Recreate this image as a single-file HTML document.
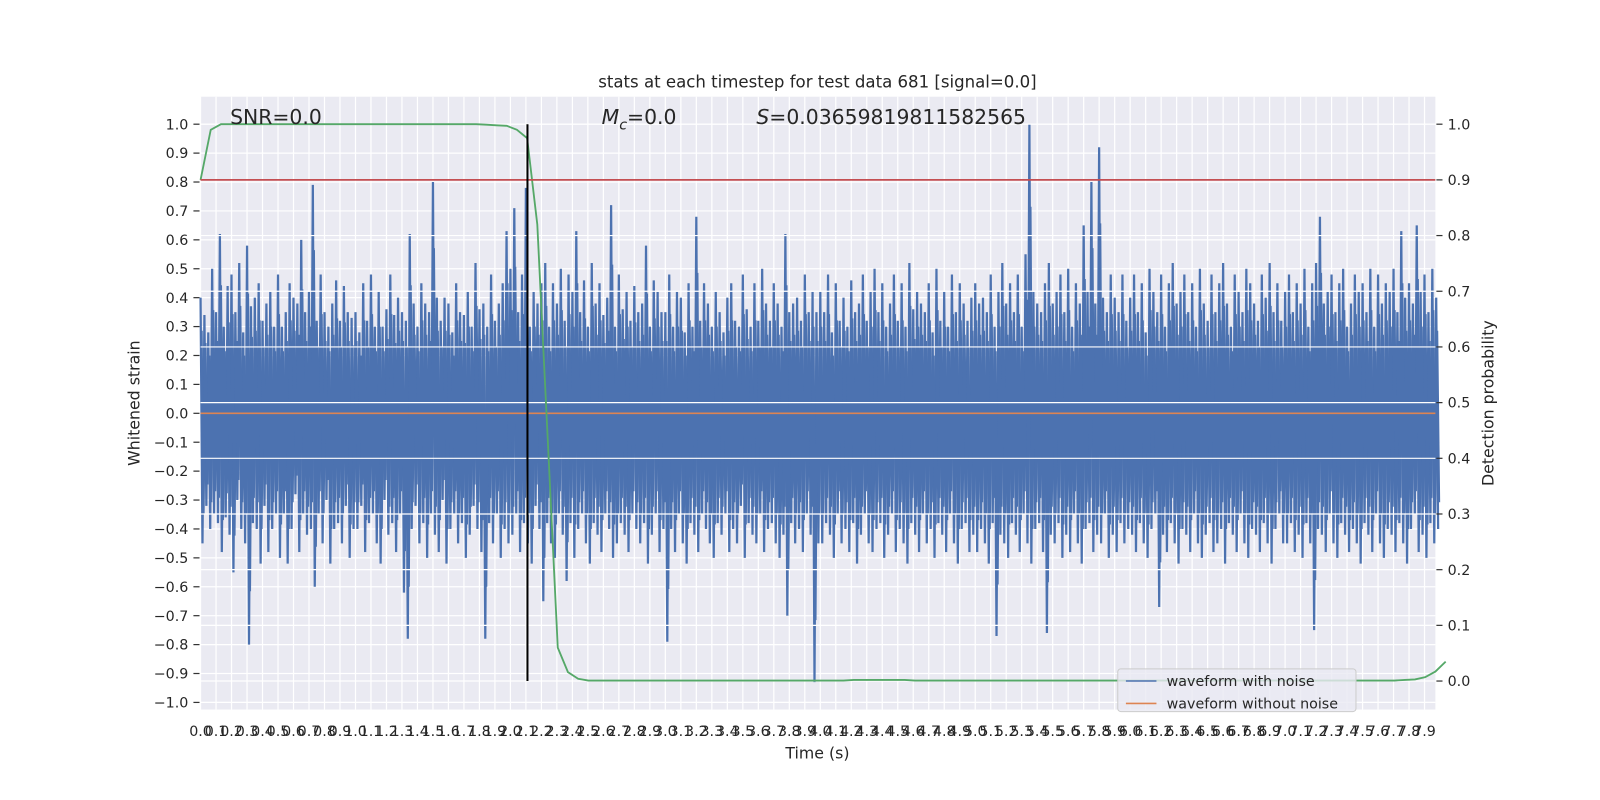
<!DOCTYPE html>
<html><head><meta charset="utf-8"><style>
html,body{margin:0;padding:0;background:#fff;overflow:hidden;width:1600px;height:800px;}
svg{display:block;position:absolute;left:0;top:0;font-family:"DejaVu Sans","Liberation Sans",sans-serif;}
</style></head><body>
<svg id="chart" width="1600" height="800" viewBox="0 0 1600 800" xmlns="http://www.w3.org/2000/svg">
<g transform="scale(1.018)">
<text x="803" y="86" font-size="16.3" text-anchor="middle" fill="#262626">stats at each timestep for test data 681 [signal=0.0]</text>
<g id="plot"></g>
<text x="226" y="122" font-size="20" fill="#262626">SNR=0.0</text>
<text x="591" y="122" font-size="20" fill="#262626"><tspan font-style="italic">M</tspan><tspan font-style="italic" font-size="14" dy="5">c</tspan><tspan dy="-5">=0.0</tspan></text>
<text x="743" y="122" font-size="20" fill="#262626"><tspan font-style="italic">S</tspan>=0.03659819811582565</text>
<text x="803" y="745" font-size="15.5" text-anchor="middle" fill="#262626">Time (s)</text>
<text x="0" y="0" font-size="15.5" text-anchor="middle" fill="#262626" transform="translate(137,396) rotate(-90)">Whitened strain</text>
<text x="0" y="0" font-size="15.5" text-anchor="middle" fill="#262626" transform="translate(1467,396) rotate(-90)">Detection probability</text>
<g>
<rect x="1098" y="657" width="234" height="42" rx="3" fill="#EAEAF2" fill-opacity="0.8" stroke="#cccccc"/>
<line x1="1106" y1="669" x2="1136" y2="669" stroke="#4C72B0" stroke-width="1.5"/>
<text x="1146" y="674" font-size="14" fill="#262626">waveform with noise</text>
<line x1="1106" y1="691" x2="1136" y2="691" stroke="#DD8452" stroke-width="1.5"/>
<text x="1146" y="696" font-size="14" fill="#262626">waveform without noise</text>
</g>
</g>
</svg>
<script>
// ---- data ----
const binWidth = 0.025; // seconds per waveform bin
const strainHigh = [
40,34,28,50,35,62,30,44,48,35,52,28,58,37,40,45,32,38,42,30,48,30,35,45,40,38,60,35,42,79,32,48,35,30,38,46,32,44,35,33,
35,28,45,32,48,30,42,30,36,48,34,40,35,32,62,38,30,45,38,35,80,40,32,40,38,28,45,35,34,42,30,52,36,38,30,48,32,38,45,63,
50,71,35,48,78,30,42,38,45,52,30,45,38,50,32,48,42,63,35,46,30,52,38,45,34,40,72,30,48,36,42,32,44,35,38,58,30,46,42,35,
35,48,30,42,40,28,45,30,68,32,45,38,30,42,35,28,40,45,32,30,48,36,30,45,32,50,38,32,45,38,30,62,35,38,40,32,48,35,42,35,
42,35,48,28,45,32,40,30,46,35,38,48,32,42,50,35,45,30,38,48,32,45,30,52,36,42,38,35,45,28,50,32,42,30,48,35,45,38,32,40,
45,38,40,35,48,30,42,52,38,45,35,48,30,55,100,42,38,35,45,52,38,42,48,35,50,30,45,38,65,42,80,38,92,40,35,48,40,35,48,32,
40,48,35,45,28,50,42,35,48,30,45,52,38,42,48,35,45,30,50,38,32,48,35,45,52,38,30,48,42,35,50,45,38,32,48,40,52,35,45,32,
42,48,35,45,38,50,30,45,52,68,38,42,48,35,45,50,30,38,48,42,45,35,50,30,48,38,45,42,50,35,63,40,45,38,65,42,48,35,50,40];
const strainLow = [
-45,-32,-40,-35,-38,-48,-36,-42,-55,-30,-40,-45,-80,-38,-40,-52,-32,-48,-40,-35,-50,-35,-52,-40,-28,-48,-35,-42,-40,-60,-35,-45,-30,-52,-40,-38,-45,-32,-50,-40,
-40,-32,-48,-38,-35,-45,-52,-30,-42,-38,-48,-35,-62,-78,-40,-32,-45,-38,-50,-35,-42,-48,-30,-52,-40,-35,-45,-38,-50,-42,-32,-40,-48,-78,-38,-45,-35,-50,-40,-45,
-42,-35,-48,-38,-45,-52,-32,-40,-65,-38,-45,-50,-35,-42,-58,-38,-50,-40,-35,-45,-52,-38,-42,-48,-35,-40,-50,-45,-38,-42,-48,-35,-40,-45,-38,-52,-42,-35,-48,-40,
-79,-40,-48,-35,-45,-52,-38,-42,-48,-35,-40,-45,-50,-38,-42,-35,-48,-40,-45,-32,-50,-38,-42,-45,-35,-48,-40,-38,-45,-50,-42,-70,-38,-45,-40,-48,-35,-42,-93,-45,
-45,-38,-42,-50,-35,-45,-40,-48,-38,-52,-42,-35,-45,-48,-40,-38,-50,-42,-35,-48,-40,-45,-52,-38,-42,-48,-35,-45,-40,-50,-38,-42,-48,-35,-45,-52,-40,-38,-48,-42,
-48,-40,-45,-52,-38,-77,-42,-45,-50,-38,-42,-48,-35,-45,-52,-40,-38,-48,-76,-42,-45,-38,-50,-42,-48,-35,-45,-52,-40,-38,-48,-42,-45,-35,-50,-42,-48,-38,-45,-40,
-42,-48,-38,-45,-50,-40,-35,-67,-42,-48,-38,-45,-52,-40,-42,-48,-35,-45,-50,-42,-38,-48,-45,-40,-52,-38,-42,-48,-35,-45,-50,-40,-42,-48,-38,-45,-52,-40,-35,-45,
-45,-38,-48,-42,-50,-38,-45,-75,-40,-42,-48,-35,-45,-50,-38,-42,-48,-40,-45,-52,-38,-42,-48,-35,-45,-50,-40,-42,-48,-38,-45,-52,-40,-35,-48,-42,-50,-38,-45,-40];
const cleanWaveform = [0, 0]; // waveform without noise (flat zero)
const probStep = 0.06587; // seconds between probability samples
const probValues = [0.90,0.99,1,1,1,1,1,1,1,1,1,1,1,1,1,1,1,1,1,1,1,1,1,1,1,1,1,1,0.999,0.998,0.997,0.99,0.975,0.82,0.44,0.06,0.016,0.004,0.001,
0.001,0.001,0.001,0.001,0.001,0.001,0.001,0.001,0.001,0.001,0.001,0.001,0.001,0.001,0.001,0.001,0.001,0.001,0.001,0.001,0.001,0.001,0.001,0.001,0.001,0.002,0.002,0.002,0.002,0.002,0.002,0.001,0.001,0.001,0.001,0.001,0.001,0.001,0.001,0.001,0.001,0.001,0.001,0.001,0.001,0.001,0.001,0.001,0.001,0.001,0.001,0.001,0.001,0.001,0.001,0.001,0.001,0.001,0.001,0.001,0.001,0.001,0.001,0.001,0.001,0.001,0.001,0.001,0.001,0.001,0.001,0.001,0.001,0.001,0.001,0.001,0.001,0.001,0.001,0.002,0.003,0.007,0.017,0.035];
const threshold = [0.9];
const markerTime = [2.11];
const leftTicks = [-1.0,-0.9,-0.8,-0.7,-0.6,-0.5,-0.4,-0.3,-0.2,-0.1,0.0,0.1,0.2,0.3,0.4,0.5,0.6,0.7,0.8,0.9,1.0];
const rightTicks = [0.0,0.1,0.2,0.3,0.4,0.5,0.6,0.7,0.8,0.9,1.0];
const xTickCount = [80]; // ticks 0.0 .. 7.9 every 0.1 s

// ---- axes ----
const L = 197, R = 1410, T = 95, B = 697;
const xMax = 7.97;
const X = t => L + (R - L) * t / xMax;
const yL = v => 406 - v * 284;          // left axis: strain
const yR = p => 669 - p * 547;          // right axis: probability
const NS = 'http://www.w3.org/2000/svg';
const plot = document.getElementById('plot');
function mk(tag, attrs, parent) {
  const e = document.createElementNS(NS, tag);
  for (const k in attrs) e.setAttribute(k, attrs[k]);
  (parent || plot).appendChild(e);
  return e;
}
const fmt = v => (v < 0 ? '\u2212' : '') + Math.abs(v).toFixed(1);

const bg = mk('rect', {x: L, y: T, width: R - L, height: B - T, fill: '#EAEAF2'});



for (let i = 0; i < xTickCount[0]; i++) {
  const t = i / 10, x = X(t);
  const g = mk('line', {x1: x, y1: T, x2: x, y2: B, stroke: '#fff', 'stroke-width': 1.2});
  
  
  const lb = mk('text', {x: x, y: 723, 'font-size': 14, 'text-anchor': 'middle', fill: '#262626'});
  
  
  lb.textContent = t.toFixed(1);
}
leftTicks.forEach(v => {
  const y = yL(v);
  const g = mk('line', {x1: L, y1: y, x2: R, y2: y, stroke: '#fff', 'stroke-width': 1.2});
  
  
  const tk = mk('line', {x1: L - 7, y1: y, x2: L - 1, y2: y, stroke: '#333', 'stroke-width': 1.2});
  
  
  const lb = mk('text', {x: L - 12, y: y + 5, 'font-size': 14, 'text-anchor': 'end', fill: '#262626'});
  
  
  lb.textContent = fmt(v);
});

let d = '';
strainHigh.forEach((h, i) => {
  const t0 = i * binWidth;
  d += (i ? 'L' : 'M') + X(t0).toFixed(1) + ',' + yL(h / 100).toFixed(1);
  d += 'L' + X(t0 + binWidth / 2).toFixed(1) + ',' + yL(strainLow[i] / 100).toFixed(1);
});
const wave = mk('path', {d: d, fill: 'none', stroke: '#4C72B0', 'stroke-width': 2.2, 'stroke-linejoin': 'miter'});


let d2 = '';
strainHigh.forEach((h, i) => {
  const t0 = i * binWidth;
  d2 += (i ? 'L' : 'M') + X(t0 + binWidth / 4).toFixed(1) + ',' + yL(h / 140).toFixed(1);
  d2 += 'L' + X(t0 + binWidth * 3 / 4).toFixed(1) + ',' + yL(strainLow[i] / 130).toFixed(1);
});
const core = mk('path', {d: d2, fill: 'none', stroke: '#4C72B0', 'stroke-width': 2.2});



const clean = mk('line', {x1: L, y1: yL(cleanWaveform[0]), x2: R, y2: yL(cleanWaveform[1]), stroke: '#DD8452', 'stroke-width': 1.6});



rightTicks.forEach(p => {
  const y = yR(p);
  const g = mk('line', {x1: L, y1: y, x2: R, y2: y, stroke: '#fff', 'stroke-width': 1.2});
  
  
  const tk = mk('line', {x1: R + 1, y1: y, x2: R + 7, y2: y, stroke: '#333', 'stroke-width': 1.2});
  
  
  const lb = mk('text', {x: R + 12, y: y + 5, 'font-size': 14, fill: '#262626'});
  
  
  lb.textContent = p.toFixed(1);
});

const pts = probValues.map((p, i) => X(i * probStep).toFixed(1) + ',' + yR(p).toFixed(1)).join(' ');
const prob = mk('polyline', {points: pts, fill: 'none', stroke: '#55A868', 'stroke-width': 1.8});



const thr = mk('line', {x1: L, y1: yR(threshold[0]), x2: R, y2: yR(threshold[0]), stroke: '#C44E52', 'stroke-width': 1.8});



const mkr = mk('line', {x1: X(markerTime[0]), y1: yR(0), x2: X(markerTime[0]), y2: yR(1), stroke: '#000', 'stroke-width': 2});


</script>
</body></html>
